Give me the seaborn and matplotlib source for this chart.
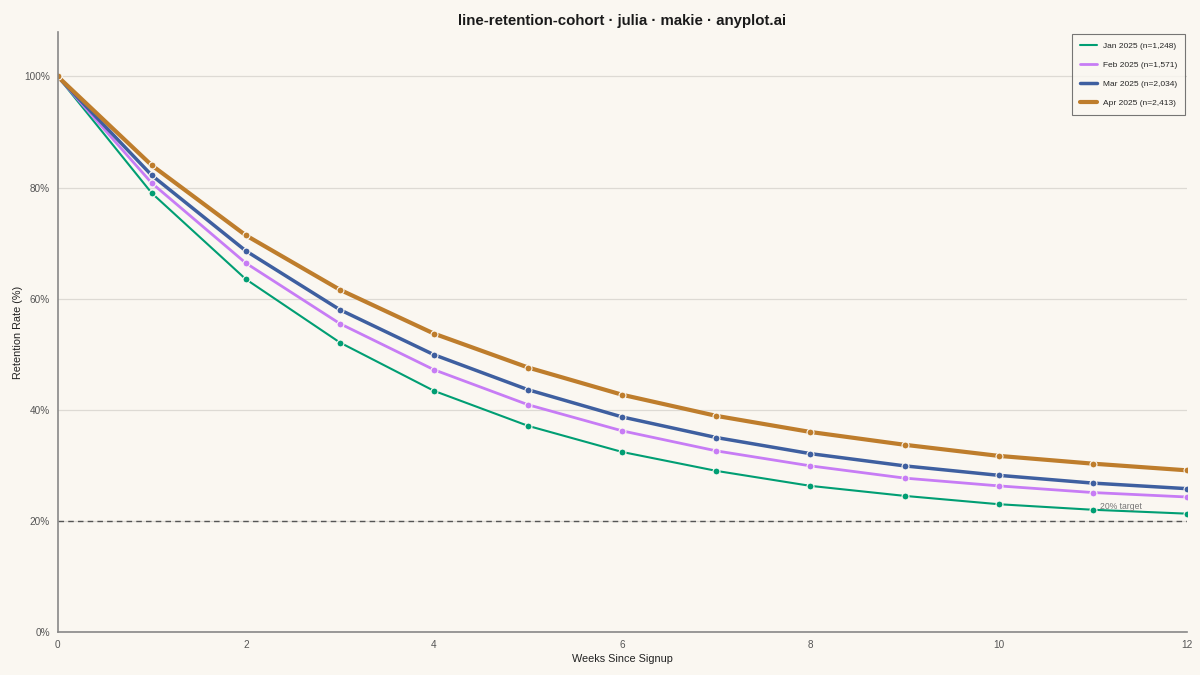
import matplotlib
matplotlib.use("Agg")
import matplotlib.pyplot as plt
import numpy as np
import pandas as pd
import seaborn as sns
from matplotlib.ticker import FuncFormatter

# Data
weeks = list(range(13))
jan = [100, 79.0, 63.5, 52.1, 43.4, 37.1, 32.4, 29.0, 26.3, 24.5, 23.0, 22.0, 21.3]
feb = [100, 80.8, 66.4, 55.5, 47.2, 40.9, 36.2, 32.6, 29.9, 27.7, 26.3, 25.1, 24.3]
mar = [100, 82.2, 68.6, 58.0, 49.9, 43.6, 38.7, 35.0, 32.1, 29.9, 28.2, 26.8, 25.8]
apr = [100, 84.0, 71.4, 61.6, 53.7, 47.6, 42.7, 38.9, 36.0, 33.7, 31.7, 30.3, 29.1]
cohorts = ["Jan 2025 (n=1,248)", "Feb 2025 (n=1,571)",
           "Mar 2025 (n=2,034)", "Apr 2025 (n=2,413)"]
target = 20

colors = ["#009E73", "#C77CF5", "#3E5FA0", "#BE7D2C"]
widths = [1.5, 2.0, 2.5, 3.0]
bg = "#FAF7F1"

df = pd.DataFrame({
    "week": weeks * 4,
    "retention": jan + feb + mar + apr,
    "cohort": np.repeat(cohorts, len(weeks)),
})

sns.set_style("white")
plt.rcParams["font.family"] = ["Liberation Sans", "DejaVu Sans"]

fig = plt.figure(figsize=(12, 6.75), dpi=100, facecolor=bg)
ax = fig.add_axes([0.048, 0.0637, 0.941, 0.889])
ax.set_facecolor(bg)

for name, col, lw in zip(cohorts, colors, widths):
    sub = df[df["cohort"] == name]
    sns.lineplot(data=sub, x="week", y="retention", ax=ax, color=col,
                 linewidth=lw, marker="o", markersize=5,
                 markeredgecolor=bg, markeredgewidth=0.8, label=name)

ax.axhline(target, color="#555555", linestyle=(0, (4, 3)), linewidth=1.0, zorder=1)
ax.text(11.08, target + 1.8, "20% target", fontsize=6.2, color="#777777",
        ha="left", va="bottom")

ax.set_xlim(0, 12)
ax.set_ylim(0, 108)
ax.set_xticks(range(0, 13, 2))
ax.set_yticks(range(0, 101, 20))
ax.yaxis.set_major_formatter(FuncFormatter(lambda v, p: f"{int(v)}%"))
ax.grid(axis="y", color="#DDDAD4", linewidth=0.9)
ax.set_axisbelow(True)

for s in ["top", "right"]:
    ax.spines[s].set_visible(False)
for s in ["left", "bottom"]:
    ax.spines[s].set_color("#888888")
    ax.spines[s].set_linewidth(1.2)
ax.tick_params(axis="both", labelsize=7.2, colors="#555555", length=3,
               width=1, direction="out", color="#888888", pad=2.5)

ax.set_xlabel("Weeks Since Signup", fontsize=7.8, color="#222222")
ax.set_ylabel("Retention Rate (%)", fontsize=7.8, color="#222222")
ax.xaxis.set_label_coords(0.5, -0.036)
ax.yaxis.set_label_coords(-0.031, 0.5)
ax.set_title("line-retention-cohort · julia · makie · anyplot.ai",
             fontsize=10.8, fontweight="bold", color="#1a1a1a", pad=5)

leg = ax.legend(loc="upper right", fontsize=6, frameon=True, fancybox=False,
                edgecolor="#555555", facecolor=bg, handlelength=2.0,
                handletextpad=0.7, borderpad=1.0, labelspacing=1.35,
                borderaxespad=0.2)
leg.get_frame().set_linewidth(0.8)
for h in leg.legend_handles:
    h.set_marker("")

fig.savefig("out.png", dpi=100, facecolor=bg)
